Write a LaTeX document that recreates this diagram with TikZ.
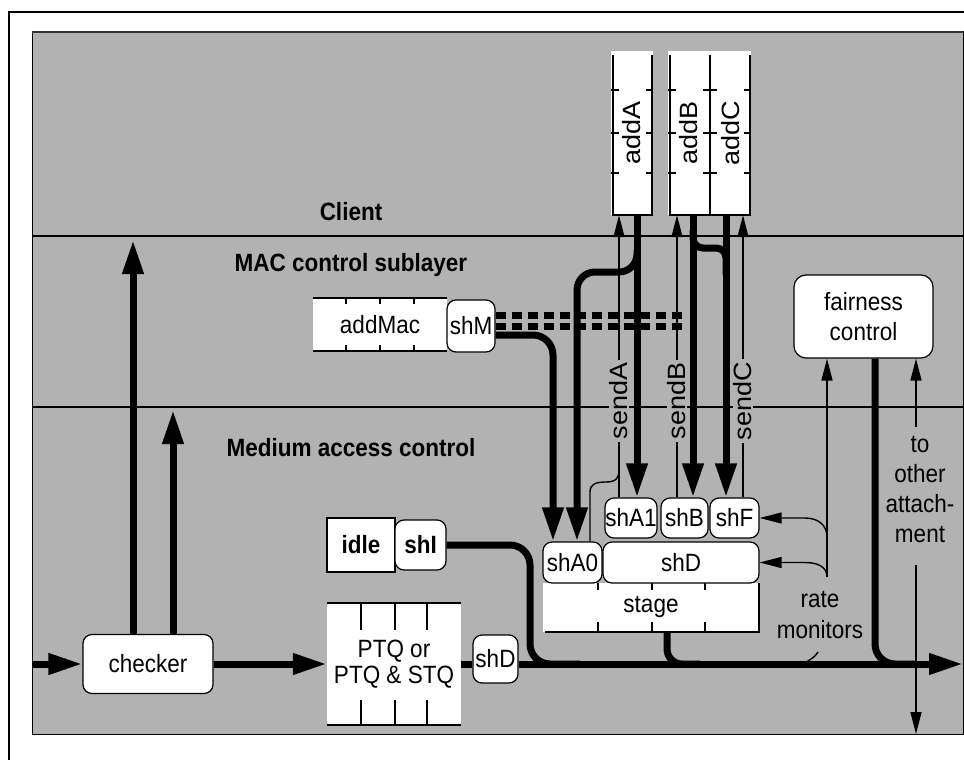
\documentclass[tikz,border=0pt]{standalone}
\usepackage{fontspec}
\setmainfont{Liberation Sans}[FakeStretch=0.9]
\usetikzlibrary{arrows.meta,calc}
\definecolor{bg}{gray}{0.70}
\begin{document}
\begin{tikzpicture}[x=1pt,y=-1pt,
  every node/.style={font=\fontsize{25}{28}\selectfont, inner sep=0pt},
  shbox/.style={draw=black, line width=1.2pt, fill=white, rounded corners=9pt, font=\fontsize{25}{27}\selectfont},
  qbox/.style={fill=white},
  qline/.style={line width=1.3pt},
  thk/.style={line width=7pt},
  thkarr/.style={line width=7pt, -{Triangle[length=34pt,width=20pt]}},
  thn/.style={line width=1.4pt},
  thnarr/.style={line width=1.4pt, -{Triangle[length=22pt,width=11pt]}},
  lbl/.style={font=\bfseries\fontsize{25}{28}\selectfont},
  sendlbl/.style={rotate=90, fill=bg, inner xsep=3pt, inner ysep=1pt},
  dots/.style={line width=7pt, dash pattern=on 10pt off 6pt},
]
\useasboundingbox (0,0) rectangle (964,760);
\fill[white] (0,0) rectangle (964,760);
\draw[line width=2.5pt] (9,760) -- (9,12) -- (964,12);
\draw[fill=bg, line width=1pt] (32,32) rectangle (963,734);
\draw[line width=2.5pt, black!80] (32,32) -- (963,32);
% layer lines
\draw[line width=1.5pt] (32,236) -- (963,236);
\draw[line width=1.5pt] (32,407) -- (963,407);
% layer labels
\node[lbl] (client) at (351,212) {Client};
\node[lbl] (macctl) at (351,265) {MAC control sublayer};
\node[lbl] (medacc) at (351,448) {Medium access control};

% client queues
\node[qbox, minimum width=42pt, minimum height=164pt] (addA) at (632,133) {};
\draw[qline] (613,55) -- (613,215) -- (652,215) -- (652,55);
\foreach \y in {90,133,173} {\draw[qline] (611,\y) -- (619,\y) (646,\y) -- (652,\y);}
\node[rotate=90] at (addA.center) {\scalebox{1.2}[1]{addA}};
\node[qbox, minimum width=42pt, minimum height=164pt] (addB) at (689,133) {};
\node[qbox, minimum width=41pt, minimum height=164pt] (addC) at (730.5,133) {};
\draw[qline] (670,55) -- (670,215) -- (750,215) -- (750,55);
\draw[qline] (710,55) -- (710,215);
\foreach \y in {90,133,173} {\draw[qline] (668,\y) -- (676,\y) (703,\y) -- (717,\y) (744,\y) -- (750,\y);}
\node[rotate=90] at (addB.center) {\scalebox{1.2}[1]{addB}};
\node[rotate=90] at (addC.center) {\scalebox{1.2}[1]{addC}};

% addMac queue
\node[qbox, minimum width=134pt, minimum height=53pt] (addMac) at (380,324.5) {addMac};
\draw[qline] (313,298) -- (447,298) (313,351) -- (447,351);
\foreach \x in {346,380,414} {\draw[qline] (\x,298) -- (\x,304) (\x,351) -- (\x,345);}
\node[shbox, minimum width=48pt, minimum height=52pt] (shM) at (471,326) {shM};

% dotted double line
\draw[dots] (shM.east |- 0,315) -- (684,315);
\draw[dots] (shM.east |- 0,326) -- (684,326);

% stage
\node[qbox, minimum width=216pt, minimum height=49pt] (stage) at (651,607.5) {stage};
\draw[qline] (545,632) -- (759,632) -- (759,583);
\foreach \x in {598,652,705} {\draw[qline] (\x,583) -- (\x,590) (\x,632) -- (\x,622);}
\node[shbox, minimum width=59pt, minimum height=41pt] (shA0) at (572.5,562.5) {shA0};
\node[shbox, minimum width=156pt, minimum height=41pt] (shD) at (681,562.5) {shD};
\node[shbox, minimum width=52pt, minimum height=40pt] (shA1) at (631,518) {shA1};
\node[shbox, minimum width=47pt, minimum height=40pt] (shB) at (684.5,518) {shB};
\node[shbox, minimum width=49pt, minimum height=40pt] (shF) at (734.5,518) {shF};

% idle
\node[draw, line width=1.2pt, fill=white, minimum width=68pt, minimum height=54pt, font=\bfseries\fontsize{25}{28}\selectfont] (idle) at (361,545) {idle};
\node[shbox, minimum width=51pt, minimum height=50pt, font=\bfseries\fontsize{25}{27}\selectfont] (shI) at (420.5,545) {shI};

% PTQ
\node[qbox, minimum width=134pt, minimum height=122pt, align=center, font=\fontsize{25}{26}\selectfont] (PTQ) at (394,664) {PTQ or\\PTQ \& STQ};
\draw[qline] (327,603) -- (461,603) (327,725) -- (461,725);
\foreach \x in {361,395,427} {\draw[qline] (\x,603) -- (\x,630) (\x,725) -- (\x,700);}
\node[shbox, minimum width=45pt, minimum height=48pt] (shDs) at (495.5,659) {shD};

% checker and fairness
\node[shbox, minimum width=130pt, minimum height=59pt] (checker) at (148,664) {checker};
\node[shbox, rounded corners=12pt, minimum width=139pt, minimum height=83pt, align=center, font=\fontsize{25}{30}\selectfont] (fair) at (863.5,316.5) {fairness\\control};

% main bus
\coordinate (inL) at (32,664);
\coordinate (busEnd) at (963,664);
\draw[thkarr] (inL) -- (checker.west);
\draw[thkarr] (checker.east) -- (PTQ.west);
\draw[thk] (PTQ.east) -- (shDs.west |- PTQ.east);
\draw[thkarr] (shDs.east |- busEnd) -- (busEnd);
% checker up arrows
\coordinate (cu1) at (133,240);
\coordinate (cu2) at (173,410);
\draw[thkarr] (checker.north -| cu1) -- (cu1);
\draw[thkarr] (checker.north -| cu2) -- (cu2);
% merges into bus
\draw[thk, rounded corners=20pt] (shI.east) -- (530,545) -- (530,664) -- (580,664);
\draw[thk, rounded corners=15pt] (stage.south -| 667,0) -- (667,664) -- (700,664);
\draw[thk, rounded corners=20pt] (fair.south -| 875,0) -- (875,664) -- (915,664);

% shM to shA0
\draw[thkarr, rounded corners=20pt] (shM.east |- 0,335) -- (553,335) -- (shA0.north -| 553,0);
% addA branch to shA0
\draw[thkarr, rounded corners=18pt] (637,250) |- (577,272) -- (shA0.north -| 577,0);
% add queues down
\draw[thkarr] (addA.south -| 637,0) -- (shA1.north -| 637,0);
\draw[thkarr] (addB.south -| 693,0) -- (shB.north -| 693,0);
\draw[thkarr] (addC.south -| 726,0) -- (shF.north -| 726,0);
\draw[thk, rounded corners=10pt] (693,230) |- (726,248) -- (726,275);

% send lines
\draw[thnarr] (shA1.north -| 619,0) -- (addA.south -| 619,0);
\draw[thnarr] (shB.north -| 677,0) -- (addB.south -| 677,0);
\draw[thnarr] (shF.north -| 743,0) -- (addC.south -| 743,0);
\draw[thn] (shA0.north -| 590,0) -- (590,492) .. controls (590,484) and (596,482) .. (606,482) .. controls (616,482) and (619,478) .. (619,470);
\node[sendlbl] (sA) at (619,401) {\scalebox{1.2}[1]{sendA}};
\node[sendlbl] (sB) at (677,401) {\scalebox{1.2}[1]{sendB}};
\node[sendlbl] (sC) at (743,401) {\scalebox{1.2}[1]{sendC}};

% rate monitors
\coordinate (rmB) at (827,577);
\draw[thnarr] (rmB) -- (fair.south -| rmB);
\draw[thnarr] (827,537) .. controls (827,525) and (818,518) .. (805,518) -- (shF.east);
\draw[thnarr] (rmB) .. controls (827,567) and (818,562.5) .. (805,562.5) -- (shD.east);
\node[align=center, font=\fontsize{25}{31}\selectfont] (rm) at (820,615) {rate\\monitors};
\draw[thn] (818,652) .. controls (815,657) and (810,660) .. (806,662);

% to other attachment
\node[align=center, font=\fontsize{25}{30}\selectfont] (toat) at (920,490) {to\\other\\attach-\\ment};
\coordinate (taTop) at (916,427);
\coordinate (taBot) at (916,565);
\coordinate (taEnd) at (916,734);
\draw[thnarr] (taTop) -- (fair.south -| taTop);
\draw[thnarr] (taBot) -- (taEnd);
\end{tikzpicture}
\end{document}
